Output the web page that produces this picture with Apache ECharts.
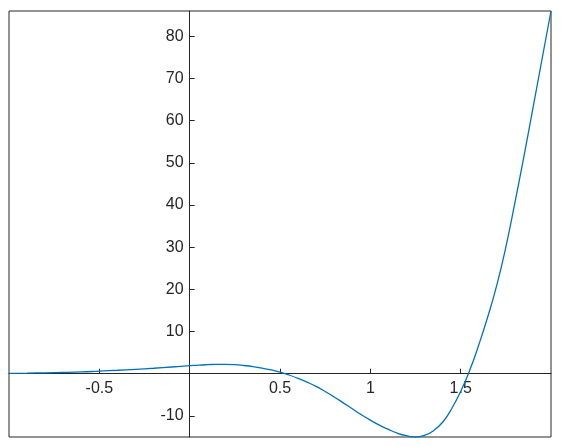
<!DOCTYPE html>
<html>
<head>
<meta charset="utf-8">
<script src="https://cdn.jsdelivr.net/npm/echarts@6/dist/echarts.min.js"></script>
<style>
  html, body { margin: 0; padding: 0; background: #fff; }
  #chart { width: 565px; height: 447px; }
</style>
</head>
<body>
<div id="chart"></div>
<script>
// values
const xs = [-1.0, -0.9, -0.8, -0.7, -0.6, -0.5, -0.4, -0.3, -0.2, -0.1,
  0.0, 0.05, 0.1, 0.15, 0.2, 0.25, 0.3, 0.35, 0.4, 0.45,
  0.5, 0.55, 0.6, 0.65, 0.7, 0.75, 0.8, 0.85, 0.9, 0.95,
  1.0, 1.05, 1.1, 1.15, 1.2, 1.25, 1.3, 1.35, 1.4, 1.45,
  1.5, 1.55, 1.6, 1.65, 1.7, 1.75, 1.8, 1.85, 1.9, 1.95, 2.0]
const ys = [0.1, 0.15, 0.22, 0.3, 0.42, 0.62, 0.82, 1.05, 1.3, 1.6,
  1.9, 2.05, 2.15, 2.22, 2.22, 2.15, 1.95, 1.7, 1.35, 0.9,
  0.4, -0.3, -1.1, -2.0, -3.0, -4.2, -5.5, -6.9, -8.3, -9.7,
  -11.0, -12.2, -13.2, -14.1, -14.7, -15.0, -14.6, -13.5, -11.5, -8.3,
  -4.2, 0.8, 6.8, 13.5, 21, 30, 40.5, 51.5, 63, 74.5, 86]
const xTicks = [-0.5, 0.5, 1, 1.5]
const yTicks = [-10, 10, 20, 30, 40, 50, 60, 70, 80]

const ink = '#262626'
const myChart = echarts.init(document.getElementById('chart'))

myChart.setOption({
  animation: false,
  grid: {
    left: 9, right: 14, top: 11, bottom: 10,
    outerBoundsMode: 'none',
    containLabel: false,
    show: true,
    borderColor: ink,
    borderWidth: 1
  },
  xAxis: {
    type: 'value',
    min: -1,
    max: 2,
    axisLine: { onZero: false, lineStyle: { color: ink, width: 1 } },
    axisTick: { inside: true, length: 5, customValues: xTicks, lineStyle: { color: ink } },
    axisLabel: {
      customValues: xTicks,
      margin: 7,
      color: ink,
      fontFamily: 'Liberation Sans',
      fontSize: 16
    },
    splitLine: { show: false }
  },
  yAxis: {
    type: 'value',
    min: -15,
    max: 86,
    axisLine: { onZero: false, lineStyle: { color: ink, width: 1 } },
    axisTick: { inside: true, length: 5, customValues: yTicks, lineStyle: { color: ink } },
    axisLabel: {
      customValues: yTicks,
      margin: 6,
      color: ink,
      fontFamily: 'Liberation Sans',
      fontSize: 16
    },
    splitLine: { show: false }
  },
  series: [
    {
      type: 'line',
      data: xs.map((x, i) => [x, ys[i]]),
      smooth: true,
      showSymbol: false,
      clip: true,
      lineStyle: { color: '#0072BD', width: 1.3 }
    }
  ]
})

// move both axes (line, ticks, labels) onto the origin
const origin = myChart.convertToPixel({ gridIndex: 0 }, [0, 0])
const corner = myChart.convertToPixel({ gridIndex: 0 }, [-1, -15])
myChart.setOption({
  xAxis: { offset: -(corner[1] - origin[1]) },
  yAxis: { offset: -(origin[0] - corner[0]) }
})
</script>
</body>
</html>
